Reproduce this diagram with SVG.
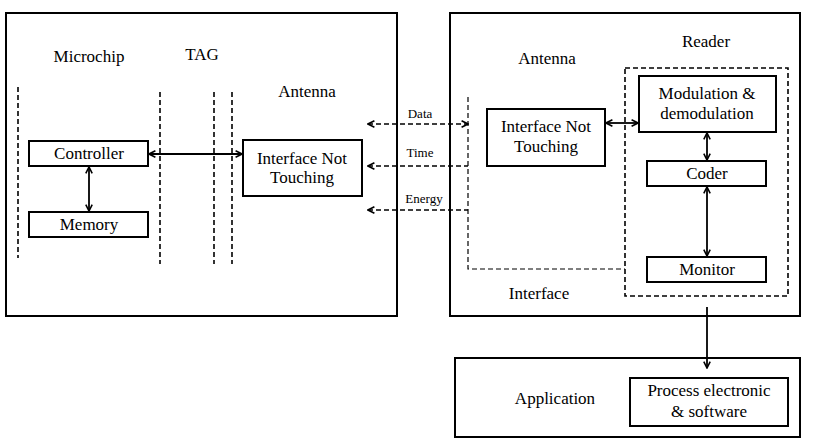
<svg xmlns="http://www.w3.org/2000/svg" width="813" height="442" viewBox="0 0 813 442">
<style>
.box{fill:#fff;stroke:#000;stroke-width:2}
.dash{fill:none;stroke:#000;stroke-width:1.6;stroke-dasharray:5,3}
.dashthin{fill:none;stroke:#000;stroke-width:1.2;stroke-dasharray:5,3}
.ln{fill:none;stroke:#000;stroke-width:1.8}
</style>
<defs>
<marker id="ah" viewBox="0 0 10 10" refX="9" refY="5" markerWidth="8" markerHeight="8" markerUnits="userSpaceOnUse" orient="auto-start-reverse">
<path d="M1,1 L9,5 L1,9" fill="none" stroke="#000" stroke-width="2"/>
</marker>
</defs>
<g id="tag">
<rect class="box" x="6" y="13" width="391" height="303"/>
<text font-family="Liberation Serif" font-size="17" text-anchor="middle" x="89" y="62">Microchip</text>
<text font-family="Liberation Serif" font-size="17" text-anchor="middle" x="202" y="60">TAG</text>
<text font-family="Liberation Serif" font-size="17" text-anchor="middle" x="307" y="97">Antenna</text>
</g>
<g id="reader-panel">
<rect class="box" x="450" y="13" width="350" height="303"/>
<text font-family="Liberation Serif" font-size="17" text-anchor="middle" x="547" y="64">Antenna</text>
<text font-family="Liberation Serif" font-size="17" text-anchor="middle" x="706" y="47">Reader</text>
<text font-family="Liberation Serif" font-size="17" text-anchor="middle" x="539" y="299">Interface</text>
<rect class="dash" x="625" y="68" width="163" height="228"/>
</g>
<g id="application-panel">
<rect class="box" x="455" y="358" width="345" height="79"/>
<text font-family="Liberation Serif" font-size="17" text-anchor="middle" x="555" y="404">Application</text>
</g>
<g id="controller"><rect class="box" x="29" y="141" width="119" height="25"/><text font-family="Liberation Serif" font-size="17" text-anchor="middle" x="89" y="159">Controller</text></g>
<g id="memory"><rect class="box" x="29" y="212" width="119" height="25"/><text font-family="Liberation Serif" font-size="17" text-anchor="middle" x="89" y="230">Memory</text></g>
<g id="tag-interface"><rect class="box" x="243" y="140" width="119" height="56"/><text font-family="Liberation Serif" font-size="17" text-anchor="middle" x="302" y="164">Interface Not</text><text font-family="Liberation Serif" font-size="17" text-anchor="middle" x="302" y="183">Touching</text></g>
<g id="reader-interface"><rect class="box" x="487" y="109" width="118" height="57"/><text font-family="Liberation Serif" font-size="17" text-anchor="middle" x="546" y="132">Interface Not</text><text font-family="Liberation Serif" font-size="17" text-anchor="middle" x="546" y="152">Touching</text></g>
<g id="modulation"><rect class="box" x="639" y="76" width="137" height="56"/><text font-family="Liberation Serif" font-size="17" text-anchor="middle" x="707" y="99">Modulation &amp;</text><text font-family="Liberation Serif" font-size="17" text-anchor="middle" x="707" y="119">demodulation</text></g>
<g id="coder"><rect class="box" x="647" y="161" width="119" height="25"/><text font-family="Liberation Serif" font-size="17" text-anchor="middle" x="707" y="179">Coder</text></g>
<g id="monitor"><rect class="box" x="647" y="257" width="119" height="25"/><text font-family="Liberation Serif" font-size="17" text-anchor="middle" x="707" y="275">Monitor</text></g>
<g id="process"><rect class="box" x="630" y="378" width="158" height="48"/><text font-family="Liberation Serif" font-size="17" text-anchor="middle" x="709" y="396">Process electronic</text><text font-family="Liberation Serif" font-size="17" text-anchor="middle" x="709" y="417">&amp; software</text></g>
<g id="connectors">
<line class="dash" x1="18" y1="87" x2="18" y2="258"/>
<line class="dash" x1="160" y1="92" x2="160" y2="264"/>
<line class="dash" x1="214" y1="92" x2="214" y2="264"/>
<line class="dash" x1="232" y1="92" x2="232" y2="264"/>
<line class="ln" x1="89" y1="167" x2="89" y2="211" marker-start="url(#ah)" marker-end="url(#ah)"/>
<line class="ln" x1="149" y1="154" x2="242" y2="154" marker-start="url(#ah)" marker-end="url(#ah)"/>
<line class="dash" x1="368" y1="124" x2="468" y2="124" marker-start="url(#ah)" marker-end="url(#ah)"/>
<line class="dash" x1="368" y1="166" x2="468" y2="166" marker-start="url(#ah)"/>
<line class="dash" x1="368" y1="210" x2="468" y2="210" marker-start="url(#ah)"/>
<text font-family="Liberation Serif" font-size="13" text-anchor="middle" x="420" y="118">Data</text>
<text font-family="Liberation Serif" font-size="13" text-anchor="middle" x="420" y="157">Time</text>
<text font-family="Liberation Serif" font-size="13" text-anchor="middle" x="424" y="203">Energy</text>
<polyline class="dashthin" points="468,97 468,269 625,269"/>
<line class="ln" x1="606" y1="123" x2="638" y2="123" marker-start="url(#ah)" marker-end="url(#ah)"/>
<line class="ln" x1="707" y1="133" x2="707" y2="160" marker-start="url(#ah)" marker-end="url(#ah)"/>
<line class="ln" x1="707" y1="187" x2="707" y2="256" marker-start="url(#ah)" marker-end="url(#ah)"/>
<line class="ln" x1="707" y1="307" x2="707" y2="368" marker-end="url(#ah)"/>
</g>
</svg>
